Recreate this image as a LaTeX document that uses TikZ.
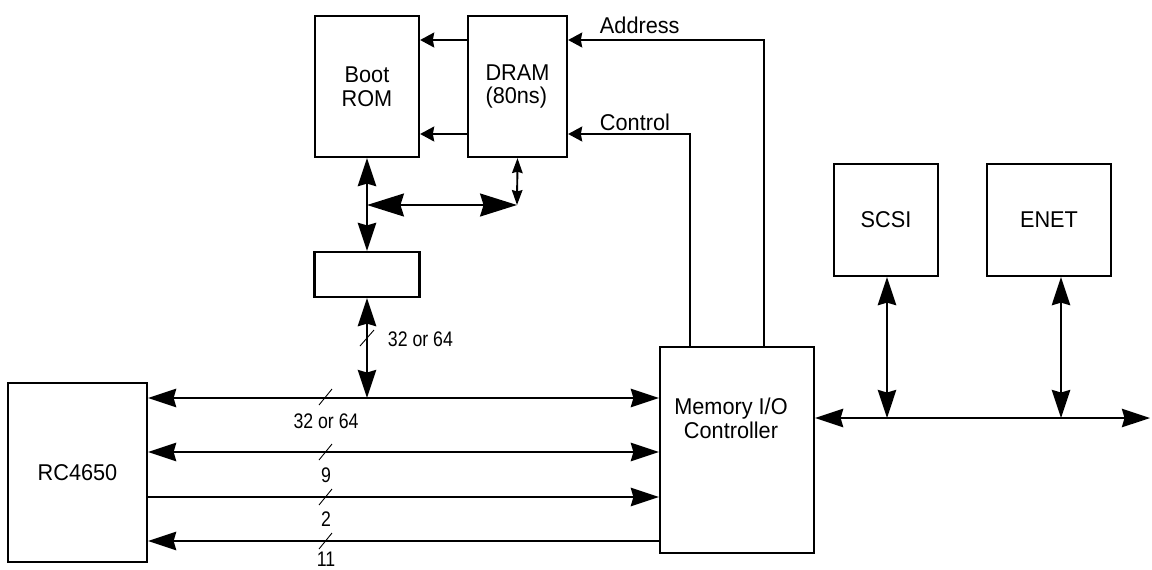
\documentclass[tikz,border=0pt]{standalone}
\usepackage{fontspec}
\setmainfont{Liberation Sans}[FakeStretch=0.95]
\newfontfamily\narrowsf{Liberation Sans}[FakeStretch=0.84]
\usetikzlibrary{arrows.meta}

\begin{document}
\begin{tikzpicture}[x=0.02cm,y=-0.02cm,line width=1.1pt,
    >={Stealth[length=16pt,width=10.5pt,inset=1.5pt]}]
    \tikzstyle{every node}=[font=\fontsize{13}{13.5}\selectfont]
    \tikzstyle{blk}=[draw,line width=1.3pt,inner sep=0pt,align=center]
    \tikzstyle{tiny}=[-{Stealth[length=8pt,width=8.5pt,inset=0.8pt]}]
    \tikzstyle{wide}=[line width=1.6pt,{Stealth[length=21pt,width=13pt,inset=2pt]}-{Stealth[length=21pt,width=13pt,inset=2pt]}]
    \tikzstyle{mini}=[{Stealth[length=8.5pt,width=6pt,inset=0.8pt]}-{Stealth[length=8.5pt,width=6pt,inset=0.8pt]}]
    \tikzstyle{buslbl}=[font=\narrowsf\fontsize{12}{12}\selectfont,inner sep=0pt]
    \tikzstyle{cut}=[line width=0.5pt]
    \useasboundingbox (0,0) rectangle (1152,569);
    %% memory side
    \node[blk,minimum width=2.08cm,minimum height=2.82cm] (ROM) at (367,86.5) {Boot\\ROM};
    \node[blk,minimum width=1.98cm,minimum height=2.82cm,align=left] (DRAM) at (517.5,86.5) {DRAM\\(80ns)};
    \node[blk,minimum width=2.1cm,minimum height=0.9cm] (BUF) at (367,274.5) {};
    \node[anchor=base west,inner sep=0pt] (ADDR) at (599,33) {Address};
    \node[anchor=base west,inner sep=0pt] (CTRL) at (599,130) {Control};
    \draw[tiny] (DRAM.west |- 0,40) -- (ROM.east |- 0,40);
    \draw[tiny] (DRAM.west |- 0,134) -- (ROM.east |- 0,134);
    \coordinate (J1) at (367,205);
    \coordinate (J2) at (517,205);
    \draw[<->] (ROM.south) -- (BUF.north);
    \draw[wide] (J1) -- (J2);
    \draw[mini] (DRAM.south) -- (J2);
    \draw[<->] (BUF.south) -- (BUF.south |- 0,398);
    \draw[cut] (360,346) -- (374,330);
    \node[buslbl,anchor=west] (n32b) at (387,339) {32 or 64};
    %% processor and controller
    \node[blk,minimum width=2.78cm,minimum height=3.58cm] (CPU) at (77.5,472.5) {RC4650};
    \node[blk,minimum width=3.08cm,minimum height=4.12cm] (MIOC) at (737,450) {};
    \node[align=center,inner sep=0pt] (MIOCtxt) at (731,418) {Memory I/O\\Controller};
    \draw[tiny] (MIOC.north -| 764,0) -- (764,40) -- (DRAM.east |- 0,40);
    \draw[tiny] (MIOC.north -| 690,0) -- (690,134) -- (DRAM.east |- 0,134);
    \draw[<->] (CPU.east |- 0,398) -- (MIOC.west |- 0,398);
    \draw[<->] (CPU.east |- 0,452) -- (MIOC.west |- 0,452);
    \draw[->] (CPU.east |- 0,497) -- (MIOC.west |- 0,497);
    \draw[<-] (CPU.east |- 0,541) -- (MIOC.west |- 0,541);
    \draw[cut] (319,405) -- (332,389); \node[buslbl] (n32) at (326,421) {32 or 64};
    \draw[cut] (319,460) -- (332,444); \node[buslbl] (n9) at (326,475) {9};
    \draw[cut] (319,505) -- (332,489); \node[buslbl] (n2) at (326,519) {2};
    \draw[cut] (319,549) -- (332,533); \node[buslbl] (n11) at (326,559) {11};
    %% io side
    \node[blk,minimum width=2.08cm,minimum height=2.24cm] (SCSI) at (886,220) {SCSI};
    \node[blk,minimum width=2.48cm,minimum height=2.24cm] (ENET) at (1049,220) {ENET};
    \coordinate (EOB) at (1150,418);
    \draw[<->] (MIOC.east |- 0,418) -- (EOB);
    \draw[<->] (SCSI.south -| 887,0) -- (887,418);
    \draw[<->] (ENET.south -| 1061,0) -- (1061,418);
\end{tikzpicture}
\end{document}
